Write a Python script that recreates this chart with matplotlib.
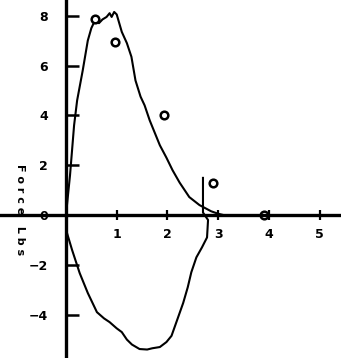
import matplotlib
matplotlib.use("Agg")
import matplotlib.pyplot as plt

# Upper (positive force) curve
up_x = [0, 0.04, 0.08, 0.12, 0.16, 0.22, 0.33, 0.43, 0.50, 0.57, 0.65, 0.72, 0.80, 0.86,
        0.90, 0.95, 1.00, 1.05, 1.10, 1.20, 1.29, 1.37, 1.47, 1.55, 1.65, 1.75, 1.85,
        1.98, 2.10, 2.24, 2.43, 2.63, 2.86, 3.00, 3.10]
up_y = [0, 0.8, 1.6, 2.6, 3.6, 4.6, 5.8, 7.0, 7.5, 7.8, 7.7, 7.85, 7.95, 8.1,
        7.95, 8.15, 8.05, 7.7, 7.35, 6.9, 6.35, 5.4, 4.75, 4.4, 3.8, 3.3, 2.8,
        2.3, 1.8, 1.3, 0.72, 0.4, 0.15, 0.05, 0.0]

# Lower (negative force) curve
lo_x = [0, 0.02, 0.12, 0.27, 0.43, 0.61, 0.75, 0.86, 1.00, 1.10, 1.20, 1.30, 1.45, 1.60,
        1.70, 1.85, 1.98, 2.08, 2.19, 2.31, 2.40, 2.47, 2.57, 2.68, 2.78, 2.80, 2.70, 2.70]
lo_y = [0, -0.72, -1.4, -2.33, -3.13, -3.9, -4.15, -4.3, -4.55, -4.7, -5.0, -5.2, -5.38, -5.4,
        -5.35, -5.3, -5.1, -4.85, -4.22, -3.53, -2.9, -2.3, -1.7, -1.3, -0.9, -0.2, 0.1, 1.49]

# Measured points
pt_x = [0.57, 0.97, 1.93, 2.90, 3.90]
pt_y = [7.87, 6.95, 4.02, 1.28, 0.0]

x_ticks = [1, 2, 3, 4, 5]
y_ticks = [8, 6, 4, 2, 0, -2, -4]
y_ticklabels = ["8", "6", "4", "2", "0", "\u22122", "\u22124"]

fig = plt.figure(figsize=(3.41, 3.58), dpi=100)
ax = fig.add_axes([0, 0, 1, 1])
ax.set_xlim(-1.30, 5.42)
ax.set_ylim(-5.74, 8.63)

ax.plot(up_x, up_y, color="black", lw=1.5)
ax.plot(lo_x, lo_y, color="black", lw=1.5)
ax.plot(pt_x, pt_y, linestyle="none", marker="o", markersize=5.5,
        markerfacecolor="white", markeredgecolor="black", markeredgewidth=1.8)

for s in ["top", "right"]:
    ax.spines[s].set_visible(False)
ax.spines["left"].set_position(("data", 0))
ax.spines["bottom"].set_position(("data", 0))
ax.spines["left"].set_linewidth(2.4)
ax.spines["bottom"].set_linewidth(2.4)

ax.set_xticks(x_ticks)
ax.set_xticklabels([str(v) for v in x_ticks], fontweight="bold", fontsize=9)
ax.tick_params(axis="x", direction="inout", length=7, width=1.6, pad=6)

ax.set_yticks(y_ticks)
ax.set_yticklabels(y_ticklabels, fontweight="bold", fontsize=9)
ax.tick_params(axis="y", direction="in", length=9, width=1.8, pad=13)

fig.text(0.059, 0.416, "F o r c e   L b s", rotation=270, ha="center", va="center",
         fontsize=8, fontweight="bold")

fig.savefig("out.png", dpi=100)
